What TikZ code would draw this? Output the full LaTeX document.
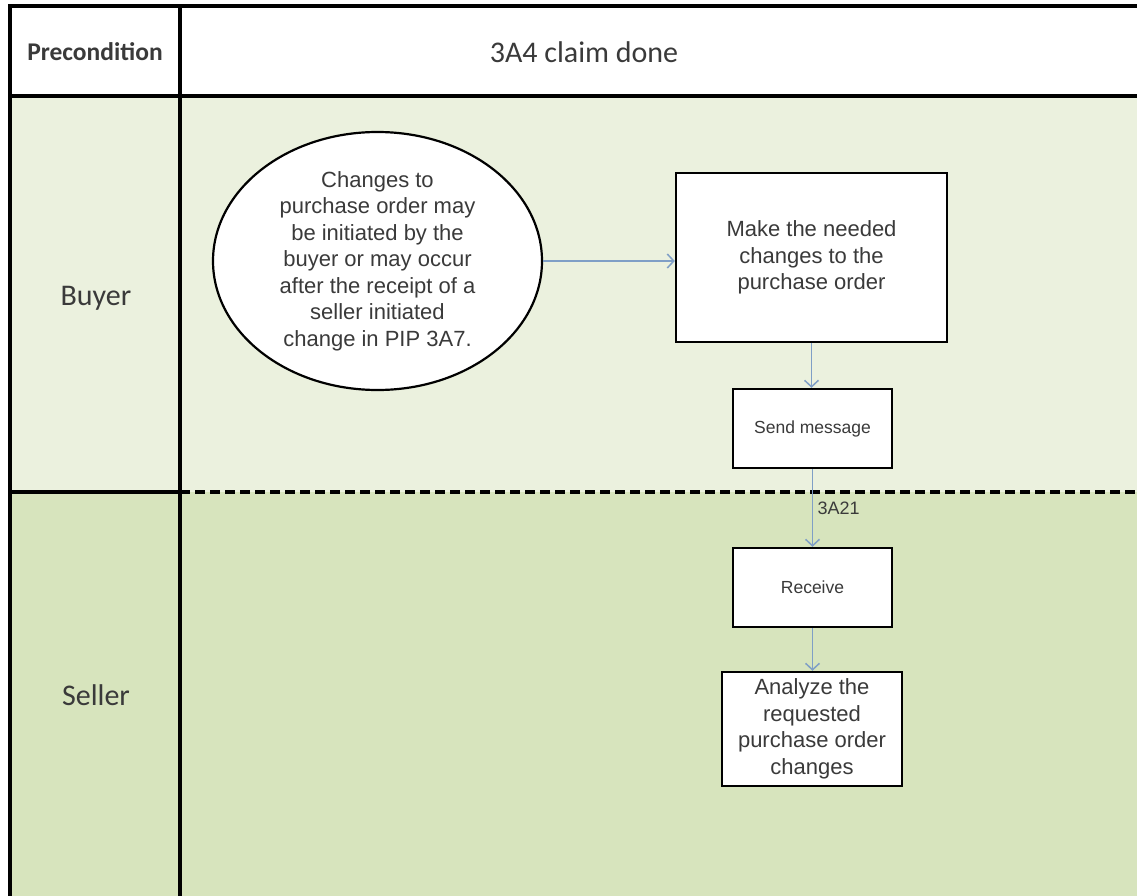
\documentclass[tikz,border=0pt]{standalone}
\usepackage{fontspec}
\setmainfont{Liberation Sans}
\newfontfamily\calfont{Carlito}
\usetikzlibrary{arrows.meta,shapes.geometric}
\definecolor{buyerfill}{HTML}{EBF1DE}
\definecolor{sellerfill}{HTML}{D7E4BD}
\definecolor{arrowblue}{HTML}{7F9FC6}
\definecolor{txtgray}{HTML}{3A3A3A}
\begin{document}
\begin{tikzpicture}[x=1pt,y=-1pt,
  laneline/.style={line width=3.2pt,line cap=rect},
  box/.style={draw, line width=2.4pt, fill=white, align=center, inner sep=0pt, text=txtgray,
    font=\fontsize{22}{26.5}\selectfont},
  smallbox/.style={box, font=\fontsize{17.5}{21}\selectfont},
  flow/.style={draw=arrowblue, line width=1.5pt, -{Straight Barb[length=6.5pt,width=14pt,line width=1.5pt]}},
  lanelabel/.style={text=txtgray, font=\calfont\fontsize{30}{34}\selectfont}
]
\useasboundingbox (0,0) rectangle (1137,896);
\fill[white] (0,0) rectangle (1137,896);
\fill[buyerfill] (10,96) rectangle (1137,492);
\fill[sellerfill] (10,492) rectangle (1137,896);

% table lines
\draw[laneline] (10,896) -- (10,6) -- (1137,6);
\draw[laneline] (180,6) -- (180,896);
\draw[laneline] (10,96) -- (1137,96);
\draw[laneline] (10,492) -- (180,492);
\draw[line width=3.2pt, dash pattern=on 10pt off 5pt] (180,492) -- (1137,492);

% header and lane labels
\node[text=txtgray, font=\calfont\bfseries\fontsize{25.5}{30}\selectfont] (pre) at (95,52) {Precondition};
\node[text=txtgray, font=\calfont\fontsize{30}{34}\selectfont] (claim) at (584,52) {3A4 claim done};
\node[lanelabel] (buyer) at (96,298) {Buyer};
\node[lanelabel] (seller) at (96,695) {Seller};

% shapes
\node[ellipse, draw, line width=2.2pt, fill=white, inner sep=0pt, minimum width=329pt, minimum height=258pt,
  align=center, text=txtgray, font=\fontsize{22}{26.5}\selectfont] (ell) at (377.5,261)
  {Changes to\\purchase order may\\be initiated by the\\buyer or may occur\\after the receipt of a\\seller initiated\\change in PIP 3A7.};
\node[box, minimum width=271pt, minimum height=169pt] (make) at (811.5,257.5)
  {Make the needed\\changes to the\\purchase order};
\node[smallbox, minimum width=159pt, minimum height=79pt] (send) at (812.5,428.5) {Send message};
\node[smallbox, minimum width=159pt, minimum height=79pt] (recv) at (812.5,587.5) {Receive};
\node[box, minimum width=180pt, minimum height=114pt] (anal) at (812,729)
  {Analyze the\\requested\\purchase order\\changes};

% connectors
\draw[flow] (ell.east) -- (ell.east -| make.west);
\draw[flow] (make.south) -- (make.south |- send.north);
\draw[flow] (send.south) -- node[pos=0.5, right=1pt, text=txtgray, font=\fontsize{18}{22}\selectfont] (lbl) {3A21} (send.south |- recv.north);
\draw[flow] (recv.south) -- (recv.south |- anal.north);
\end{tikzpicture}
\end{document}
